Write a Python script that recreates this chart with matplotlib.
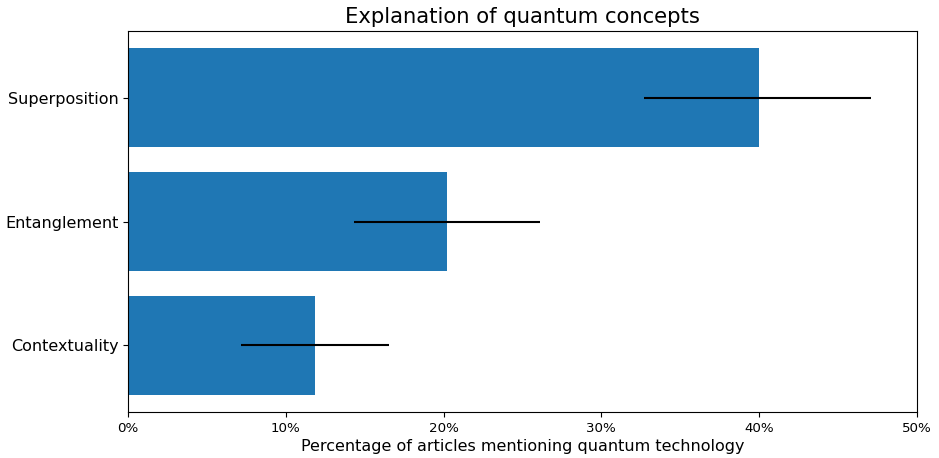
import matplotlib
matplotlib.use("Agg")
import matplotlib.pyplot as plt
from matplotlib.ticker import PercentFormatter

# dados (percentuais)
conceitos = ["Superposition", "Entanglement", "Contextuality"]
percentuais = [40.0, 20.2, 11.85]
erro_inferior = [7.3, 5.9, 4.7]
erro_superior = [7.1, 5.9, 4.7]

fig, ax = plt.subplots(figsize=(9.39, 4.58), dpi=100)

# barras horizontais, de cima para baixo
posicoes = list(range(len(conceitos)))[::-1]
ax.barh(posicoes, percentuais, height=0.8, color="#1f77b4",
        xerr=[erro_inferior, erro_superior],
        error_kw=dict(ecolor="black", capsize=0, elinewidth=1.5))

ax.set_yticks(posicoes)
ax.set_yticklabels(conceitos, fontsize=11.5)
ax.set_xlim(0, 50)
ax.xaxis.set_major_formatter(PercentFormatter(decimals=0))
ax.tick_params(axis="x", labelsize=9.6)

ax.set_title("Explanation of quantum concepts", fontsize=15.2)
ax.set_xlabel("Percentage of articles mentioning quantum technology", fontsize=11.5, labelpad=3)

fig.subplots_adjust(left=0.1363, right=0.9765, top=0.932, bottom=0.1)
fig.savefig("out.png", dpi=100)
